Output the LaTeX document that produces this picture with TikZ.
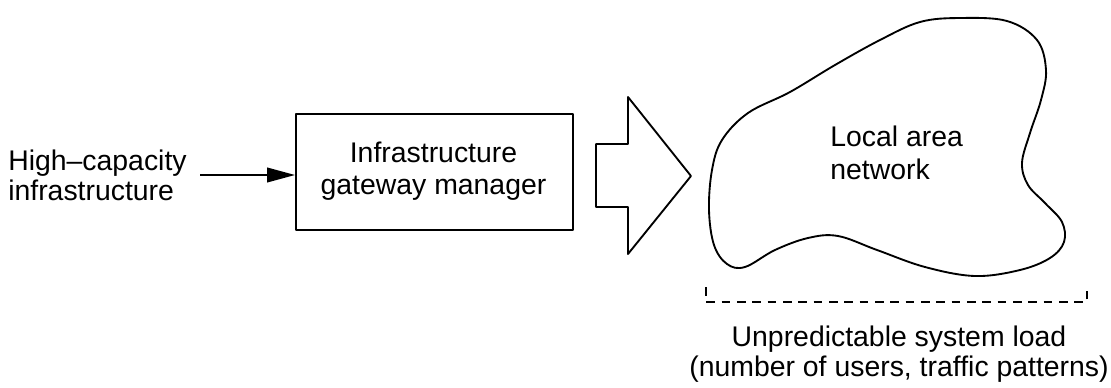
\documentclass[tikz,border=0pt]{standalone}
\usepackage{fontspec}
\setmainfont{Liberation Sans}
\usetikzlibrary{arrows.meta}
\begin{document}
\begin{tikzpicture}[x=0.75pt,y=-0.75pt,
  every node/.style={font=\fontsize{21.3pt}{24pt}\selectfont, inner sep=0pt},
  outline/.style={line width=1.4pt, line join=round},
  feed/.style={line width=1.4pt, -{Triangle[length=21pt,width=11pt]}},
  bracket/.style={line width=1.1pt, dash pattern=on 6.5pt off 5pt}]
\useasboundingbox (0,0) rectangle (1111,387);

% incoming link and gateway box
\node[anchor=west, align=left, font=\fontsize{21.3pt}{22.5pt}\selectfont] (src) at (8,175)
  {High–capacity\\infrastructure};
\node[outline, draw, minimum width=208pt, minimum height=87pt, anchor=north west,
      inner sep=0pt] (gw) at (295,113) {};
\node[align=center] at (433.5,171) (gwtext) {Infrastructure\\gateway manager};
\draw[feed] ([xshift=10pt]src.east) -- (src.east -| gw.west);

% outlined block arrow towards the network
\draw[outline] (596,144) -- (628,144) -- (628,97) -- (691,176) -- (628,254)
  -- (628,207) -- (596,207) -- cycle;

% the local area network cloud
\draw[outline] plot[smooth cycle, tension=0.6] coordinates {
  (960,18) (1007,21) (1037,40) (1046,70) (1041,100) (1030,133) (1022,163)
  (1028,185) (1045,203) (1062,222) (1064,242) (1050,258) (1020,270) (975,276)
  (925,267) (877,250) (838,236) (808,238) (775,250) (745,267) (727,264)
  (714,245) (709,210) (712,170) (722,140) (748,113) (790,92) (835,65)
  (880,40) (920,22)};
\node[anchor=west, align=left, font=\fontsize{21.3pt}{25pt}\selectfont] (lan) at (830,153)
  {Local area\\network};

% span of the load annotation
\draw[bracket] (706,287) -- (706,302) -- (1087,302) -- (1087,287);
\node[align=center, font=\fontsize{21.3pt}{22pt}\selectfont] (load) at (899,354)
  {Unpredictable system load\\(number of users, traffic patterns)};
\end{tikzpicture}
\end{document}
